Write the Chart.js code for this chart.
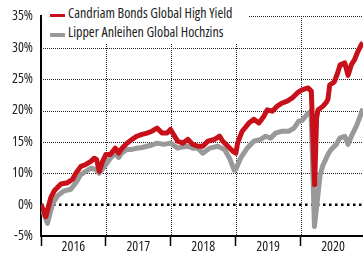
<!DOCTYPE html>
<html>
<head>
<meta charset="utf-8">
<script src="https://cdn.jsdelivr.net/npm/chart.js@4/dist/chart.umd.min.js"></script>
<style>
  html, body { margin: 0; padding: 0; background: #fff; }
  #wrap { position: relative; width: 363px; height: 259px; }
  #legend { position: absolute; left: 43px; top: 0; width: 206px; height: 44px; background: #fff;
    font-family: 'Open Sans', sans-serif; font-stretch: condensed; font-size: 14px; color: #222; }
  .mk { position: absolute; left: 7px; width: 15px; height: 3.5px; }
  .tx { position: absolute; left: 25px; line-height: 14px; white-space: nowrap; }
</style>
</head>
<body>
<div id="wrap">
  <canvas id="c" width="363" height="259"></canvas>
  <div id="legend">
    <div class="mk" style="top:13.5px;background:#c8101a"></div>
    <div class="tx" style="top:5.6px">Candriam Bonds Global High Yield</div>
    <div class="mk" style="top:33px;background:#999"></div>
    <div class="tx" style="top:24.6px">Lipper Anleihen Global Hochzins</div>
  </div>
</div>
<script>
// ---- data (decimal years, cumulative performance in %) ----
const xYears = [2016, 2017, 2018, 2019, 2020];
const yTicks = [-5, 0, 10, 15, 20, 25, 30, 35];

const redX = [2016.00, 2016.04, 2016.074, 2016.11, 2016.151, 2016.204, 2016.306, 2016.409, 2016.486, 2016.537,
  2016.614, 2016.691, 2016.769, 2016.821, 2016.856, 2016.898, 2016.949, 2017.000, 2017.068, 2017.145,
  2017.196, 2017.247, 2017.324, 2017.401, 2017.478, 2017.556, 2017.633, 2017.710, 2017.787, 2017.864,
  2017.941, 2017.994, 2018.029, 2018.106, 2018.184, 2018.261, 2018.338, 2018.415, 2018.492, 2018.569,
  2018.673, 2018.750, 2018.801, 2018.878, 2018.955, 2019.002, 2019.028, 2019.099, 2019.202, 2019.279,
  2019.356, 2019.434, 2019.485, 2019.562, 2019.639, 2019.716, 2019.793, 2019.870, 2019.948, 2020.020,
  2020.113, 2020.164, 2020.215, 2020.245, 2020.267, 2020.344, 2020.395, 2020.420, 2020.448, 2020.498,
  2020.520, 2020.576, 2020.607, 2020.680, 2020.730, 2020.781, 2020.830, 2020.880, 2020.935, 2020.960];
const redY = [0, -1.0, -1.9, -0.5, 2.2, 4.4, 6.6, 7.0, 8.1, 10.0,
  11.1, 11.4, 11.9, 12.4, 12.2, 10.3, 11.9, 13.0, 13.0, 14.0,
  13.2, 14.0, 14.8, 15.4, 15.9, 16.2, 16.4, 16.7, 17.2, 16.4,
  16.4, 17.0, 16.4, 15.1, 14.8, 15.4, 14.6, 14.3, 14.3, 15.1,
  15.4, 15.9, 15.1, 14.3, 13.5, 13.2, 14.8, 16.7, 18.0, 18.6,
  18.0, 19.1, 20.1, 19.9, 20.7, 21.2, 21.5, 22.0, 22.8, 23.3,
  23.6, 23.1, 6.3, 18.8, 20.1, 20.7, 21.3, 21.8, 24.1, 24.4,
  24.6, 26.2, 27.3, 27.6, 25.6, 27.3, 28.1, 29.4, 30.5, 30.8];

const grayX = [2016.00, 2016.023, 2016.100, 2016.177, 2016.255, 2016.358, 2016.460, 2016.537, 2016.614, 2016.691,
  2016.769, 2016.846, 2016.898, 2017.000, 2017.068, 2017.145, 2017.196, 2017.242, 2017.324, 2017.400,
  2017.478, 2017.560, 2017.633, 2017.710, 2017.787, 2017.890, 2017.994, 2018.106, 2018.180, 2018.261,
  2018.340, 2018.415, 2018.492, 2018.596, 2018.724, 2018.827, 2018.904, 2018.975, 2019.000, 2019.074,
  2019.176, 2019.279, 2019.383, 2019.460, 2019.537, 2019.614, 2019.716, 2019.819, 2019.897, 2019.970,
  2020.020, 2020.100, 2020.160, 2020.212, 2020.300, 2020.340, 2020.420, 2020.470, 2020.549, 2020.602,
  2020.679, 2020.730, 2020.781, 2020.858, 2020.935, 2020.960];
const grayY = [0, -0.9, -3.0, 0.2, 2.8, 4.4, 4.9, 7.0, 9.6, 10.3,
  10.8, 10.6, 10.0, 11.4, 12.4, 13.2, 12.5, 13.2, 13.8, 13.8,
  14.0, 14.1, 14.3, 14.5, 14.8, 14.6, 14.8, 14.0, 14.2, 14.3,
  14.0, 14.0, 13.2, 14.0, 14.3, 13.8, 12.4, 10.5, 10.6, 12.4,
  14.0, 15.1, 15.4, 15.9, 15.6, 16.4, 16.7, 16.7, 17.2, 18.3,
  18.4, 19.4, 19.9, -3.5, 9.5, 11.2, 13.0, 13.8, 14.6, 15.6,
  15.9, 14.6, 15.9, 17.5, 19.6, 20.3];

const zeroX = [2016, 2020.96];
const zeroY = [0, 0];

// ---- y scale whose labelled ticks are evenly spaced, as in the picture ----
class StepLinearScale extends Chart.LinearScale {
  static id = 'stepLinear';
  buildTicks() {
    this.start = this.min; this.end = this.max;
    return yTicks.map(v => ({ value: v }));
  }
  _frac(v) {
    const t = yTicks, n = t.length - 1;
    if (v <= t[0]) return (v - t[0]) / (t[1] - t[0]) / n;
    for (let i = 0; i < n; i++) {
      if (v <= t[i + 1]) return (i + (v - t[i]) / (t[i + 1] - t[i])) / n;
    }
    return (n - 1 + (v - t[n - 1]) / (t[n] - t[n - 1])) / n;
  }
  getPixelForValue(v) {
    if (v === null || v === undefined || isNaN(v)) return NaN;
    return this.getPixelForDecimal(this._frac(v));
  }
  getValueForPixel(p) {
    const d = this.getDecimalForPixel(p) * (yTicks.length - 1);
    const i = Math.max(0, Math.min(yTicks.length - 2, Math.floor(d)));
    return yTicks[i] + (d - i) * (yTicks[i + 1] - yTicks[i]);
  }
}
Chart.register(StepLinearScale);

// dotted grid lines at the scales' ticks (1px dots every 2px), beneath the series
const dottedGrid = {
  id: 'dottedGrid',
  beforeDatasetsDraw(chart) {
    const { ctx, chartArea: a, scales } = chart;
    ctx.save();
    ctx.setLineDash([]);
    ctx.fillStyle = '#222';
    const top = Math.round(a.top), bottom = Math.round(a.bottom);
    const left = Math.ceil(a.left), right = Math.floor(a.right);
    scales.x.ticks.forEach(t => {
      if (t.value === xYears[0]) return;
      const px = Math.round(scales.x.getPixelForValue(t.value));
      for (let yy = top; yy < bottom; yy += 2) ctx.fillRect(px, yy, 1, 1);
    });
    scales.y.ticks.forEach(t => {
      if (t.value <= 0) return;
      const py = Math.round(scales.y.getPixelForValue(t.value));
      for (let xx = left; xx < right; xx += 2) ctx.fillRect(xx, py, 1, 1);
    });
    ctx.restore();
  }
};

const canvas = document.getElementById('c');
const pts = (xs, ys) => xs.map((x, i) => ({ x: x, y: ys[i] }));
const FONT = { family: "'Open Sans', sans-serif", size: 14, weight: 'condensed' };

new Chart(canvas, {
  type: 'line',
  data: {
    datasets: [
      { label: 'Candriam Bonds Global High Yield', data: pts(redX, redY), borderColor: '#c8101a',
        borderWidth: 5, pointRadius: 0, tension: 0, borderJoinStyle: 'round', order: 0 },
      { label: 'Lipper Anleihen Global Hochzins', data: pts(grayX, grayY), borderColor: '#999999',
        borderWidth: 5, pointRadius: 0, tension: 0, borderJoinStyle: 'round', order: 1 },
      { label: 'zero', data: pts(zeroX, zeroY), borderColor: '#000', borderWidth: 2.5,
        borderDash: [2.5, 3.5], pointRadius: 0, order: 2 }
    ]
  },
  options: {
    responsive: false,
    devicePixelRatio: 1,
    animation: false,
    layout: { padding: { top: 15, right: 0, left: 0, bottom: 0 } },
    plugins: { legend: { display: false }, tooltip: { enabled: false } },
    scales: {
      x: {
        type: 'linear', min: 2016, max: 2020.96,
        afterBuildTicks: s => { s.ticks = xYears.map(v => ({ value: v })); },
        afterFit: s => { s.height = 23; },
        border: { display: true, color: '#000', width: 2 },
        grid: {
          drawOnChartArea: false, color: '#000',
          lineWidth: 1, drawTicks: true, tickLength: 10, tickColor: '#000', tickWidth: 1.5
        },
        ticks: {
          autoSkip: false, maxRotation: 0, padding: -7, labelOffset: 32.4,
          color: '#222', font: FONT,
          callback: (v, i) => String(xYears[i])
        }
      },
      y: {
        type: 'stepLinear', min: -5, max: 35,
        afterFit: s => { s.width = 41; },
        border: { display: true, color: '#000', width: 2 },
        grid: { drawOnChartArea: false, drawTicks: false },
        ticks: {
          padding: 8, color: '#222', font: FONT,
          callback: v => v + '%'
        }
      }
    }
  },
  plugins: [dottedGrid]
});
</script>
</body>
</html>
